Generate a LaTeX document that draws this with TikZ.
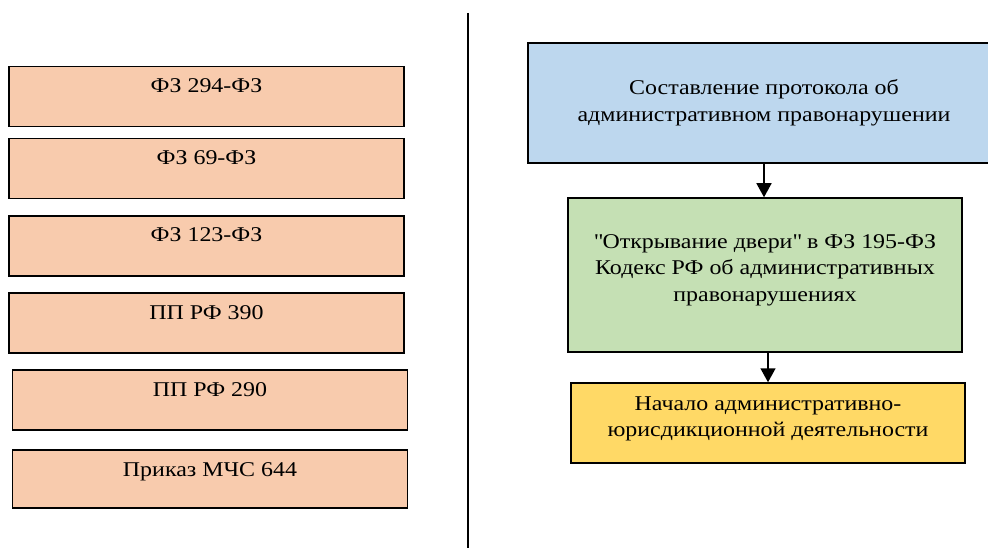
\documentclass[tikz,border=0pt]{standalone}
\usepackage{fontspec}
\setmainfont{Liberation Serif}[FakeStretch=1.14]
\usetikzlibrary{arrows.meta}

\definecolor{lawfill}{RGB}{248,203,173}
\definecolor{protfill}{RGB}{189,215,238}
\definecolor{codefill}{RGB}{197,224,180}
\definecolor{startfill}{RGB}{255,217,102}

\begin{document}
\begin{tikzpicture}[x=1pt, y=-1pt,
    every node/.style={font=\fontsize{21}{26.5}\selectfont},
    law/.style={draw, line width=1.5pt, fill=lawfill, inner xsep=0pt, inner ysep=0pt,
        minimum width=395pt, text height=26pt, text depth=34pt},
    stage/.style={draw, line width=1.5pt, align=center, inner sep=0pt},
    flow/.style={line width=1.5pt, -{Triangle[width=15pt, length=14pt]}}]

    \useasboundingbox (0,0) rectangle (988,548);

    % left column: documents
    \node[law] (fz294) at (206.5,96.5) {ФЗ 294-ФЗ};
    \node[law] (fz69) at (206.5,168.5) {ФЗ 69-ФЗ};
    \node[law] (fz123) at (206.5,246) {ФЗ 123-ФЗ};
    \node[law] (pp390) at (206.5,323) {ПП РФ 390};
    \node[law] (pp290) at (210,400) {ПП РФ 290};
    \node[law, text depth=32pt] (mchs) at (210,479) {Приказ МЧС 644};

    % separator
    \coordinate (septop) at (468,13);
    \coordinate (sepbot) at (468,548);
    \draw[line width=2pt] (septop) -- (sepbot);

    % right column: procedure
    \node[stage, fill=protfill, minimum width=472pt, minimum height=120pt] (prot) at (764,103)
        {Составление протокола об\\административном правонарушении};
    \node[stage, fill=codefill, minimum width=394pt, minimum height=154pt] (code) at (765,275)
        {\textquotedbl Открывание двери\textquotedbl{} в ФЗ 195-ФЗ\\Кодекс РФ об административных\\правонарушениях\\[-12pt]};
    \node[stage, fill=startfill, minimum width=394pt, minimum height=80pt] (start) at (768,423)
        {Начало административно-\\юрисдикционной деятельности\\[-14pt]};

    \draw[flow] (prot.south) -- (prot.south |- code.north);
    \draw[flow] (start.north |- code.south) -- (start.north);

\end{tikzpicture}
\end{document}
